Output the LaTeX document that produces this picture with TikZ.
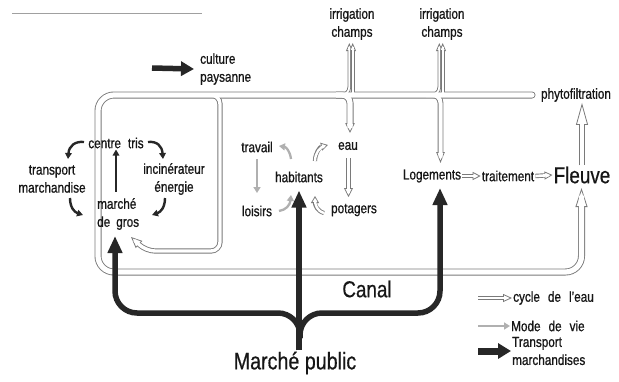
\documentclass[tikz,border=0pt]{standalone}
\usepackage{fontspec}
\setmainfont{Liberation Sans}[FakeStretch=0.81,FakeBold=0.8]
\newfontfamily\bigfont{Liberation Sans}[FakeStretch=0.82,FakeBold=0.5]
\usetikzlibrary{arrows.meta}
\definecolor{ink}{HTML}{161616}
\definecolor{cgray}{HTML}{7A7A7A}
\definecolor{lgray}{HTML}{B0B0B0}
\definecolor{dark}{HTML}{272727}
\definecolor{rulegray}{HTML}{A0A0A0}
\pgfdeclarelayer{background}
\pgfsetlayers{background,main}

\tikzset{
  wtip/.style={-{Triangle[fill=white,line width'=0.8pt,#1]}},
}
% hollow (water) arrow: outer width, inner width, tip options, inner shortening, path
\newcommand\hollow[5]{%
  \draw[draw=cgray,line width=#1,wtip={#3}] #5;
  \draw[draw=white,line width=#2,shorten >=#4] #5;}

\begin{document}
\begin{tikzpicture}[x=1pt,y=-1pt,
  lbl/.style={text=ink,font=\fontsize{14.5}{18}\selectfont,inner sep=1pt,align=center},
  big/.style={text=ink,font=\bigfont\fontsize{23}{26}\selectfont,inner sep=1pt},
  canalG/.style={draw=cgray,line width=7pt},
  canalW/.style={draw=white,line width=5.2pt},
  loopG/.style={draw=cgray,line width=5.2pt},
  loopW/.style={draw=white,line width=3.4pt},
  logG/.style={draw=cgray,line width=5.8pt},
  logW/.style={draw=white,line width=4pt},
  irrG/.style={draw=cgray,line width=3.6pt,wtip={length=8pt,width=6.5pt}},
  irrW/.style={draw=white,line width=1.8pt,shorten >=4pt},
  transport/.style={draw=dark,line width=5.5pt,-{Triangle[length=17pt,width=14pt]}},
  cyc/.style={draw=dark,line width=2.4pt,-{Triangle[length=6pt,width=6.5pt]}},
  mdv/.style={draw=lgray,line width=2.3pt,-{Triangle[length=6pt,width=7pt]}},
]
\begin{pgfonlayer}{background}
\fill[white] (0,0) rectangle (619,381);
\end{pgfonlayer}
\useasboundingbox (0,0) rectangle (619,381);

% ---------- text ----------
\node[lbl,anchor=west,align=left] (culture) at (199,69) {culture\\paysanne};
\node[lbl] (irr1) at (352,24) {irrigation\\champs};
\node[lbl] (irr2) at (442,24) {irrigation\\champs};
\node[lbl] (phyto) at (576,95) {phytofiltration};
\node[lbl] (centre) at (116,143) {centre\hspace{7pt}tris};
\node[lbl] (trans) at (52,179) {transport\\marchandise};
\node[lbl] (incin) at (174,179) {incinérateur\\énergie};
\node[lbl,anchor=west,align=left] (mdg) at (96,214) {marché\\de\hspace{6pt}gros};
\node[lbl] (travail) at (257,147) {travail};
\node[lbl] (hab) at (299,177) {habitants};
\node[lbl] (loisirs) at (257,211) {loisirs};
\node[lbl] (eau) at (348,146) {eau};
\node[lbl] (pot) at (354,210) {potagers};
\node[lbl] (log) at (432,176) {Logements};
\node[lbl] (trait) at (508,176) {traitement};
\node[big] (fleuve) at (582,175) {Fleuve};
\node[big] (canal) at (367,289) {Canal};
\node[big,font=\bigfont\fontsize{24}{26}\selectfont] (mp) at (295,363) {Marché public};
\node[lbl,anchor=west] (cyc) at (512,298) {cycle\hspace{8pt}de\hspace{8pt}l'eau};
\node[lbl,anchor=west] (mode) at (510,326) {Mode\hspace{8pt}de\hspace{8pt}vie};
\node[lbl,anchor=west,align=left] (tm) at (511,351) {Transport\\marchandises};

\begin{pgfonlayer}{background}
% thin rule at the top
\draw[draw=rulegray,line width=0.6pt] (12,13.5) -- (202,13.5);

% ---------- canal network: walls ----------
\draw[canalG,line cap=round,rounded corners=16pt,wtip={length=19pt,width=12pt}]
  (532,95) -- (98,95) -- (98,272) -- (581.5,272) -- (581.5,188);
\draw[loopG,rounded corners=9pt,wtip={length=11pt,width=9.5pt}]
  (205,95) -- (220,95) -- (220,251) -- (146,251) -- (131,237);
\draw[canalG,rounded corners=8pt,wtip={length=10pt,width=9.5pt}]
  (336,95) -- (350,95) -- (350,133);
\draw[logG,rounded corners=8pt,wtip={length=11pt,width=8.5pt}]
  (426,95) -- (440.5,95) -- (440.5,163);
\draw[irrG,rounded corners=8pt] (336,95) -- (349.3,95) -- (349.3,43);
\draw[irrG] (352.7,95) -- (352.7,43);
\draw[irrG,rounded corners=8pt] (426,95) -- (439.3,95) -- (439.3,43);
\draw[irrG] (442.7,95) -- (442.7,43);

% ---------- canal network: water ----------
\draw[canalW,line cap=round,rounded corners=16pt,shorten >=9pt]
  (532,95) -- (98,95) -- (98,272) -- (581.5,272) -- (581.5,188);
\draw[loopW,rounded corners=9pt,shorten >=5pt]
  (205,95) -- (220,95) -- (220,251) -- (146,251) -- (131,237);
\draw[canalW,rounded corners=8pt,shorten >=5pt]
  (336,95) -- (350,95) -- (350,133);
\draw[logW,rounded corners=8pt,shorten >=5.5pt]
  (426,95) -- (440.5,95) -- (440.5,163);
\draw[irrW,rounded corners=8pt] (336,95) -- (349.3,95) -- (349.3,43);
\draw[irrW] (352.7,95) -- (352.7,43);
\draw[irrW,rounded corners=8pt] (426,95) -- (439.3,95) -- (439.3,43);
\draw[irrW] (442.7,95) -- (442.7,43);
\end{pgfonlayer}

% ---------- water flow between places ----------
\hollow{5.2pt}{3.4pt}{length=22pt,width=12pt}{10pt}{(fleuve.north) -- (fleuve.north |- phyto.south)}
\hollow{4.4pt}{2.6pt}{length=8pt,width=8pt}{4pt}{(log.east) -- (trait.west)}
\hollow{4.4pt}{2.6pt}{length=8pt,width=8pt}{4pt}{(trait.east) -- (fleuve.west)}
\hollow{4.6pt}{2.8pt}{length=9pt,width=9pt}{4.5pt}{(348.5,158) -- (348.5,197)}
\hollow{4.2pt}{2.4pt}{length=7pt,width=8pt}{3.5pt}{(315,161) .. controls (315,153) and (320,147) .. (328,145)}
\hollow{4.2pt}{2.4pt}{length=7pt,width=8pt}{3.5pt}{(324,213) .. controls (317,211) and (315,205) .. (315,196)}

% ---------- mode de vie ----------
\draw[mdv] (291,159) .. controls (290,151) and (286,147) .. (279,146);
\draw[mdv] (257,159) -- (257,193);
\draw[mdv] (279,211) .. controls (286,210) and (290,205) .. (291,195);

% ---------- waste cycle ----------
\draw[cyc] (84,142) .. controls (75,141) and (69,146) .. (68,159);
\draw[cyc] (148,142) .. controls (157,141) and (162,146) .. (163,159);
\draw[cyc] (70,198) .. controls (70,207) and (74,212) .. (83,215);
\draw[cyc] (165,198) .. controls (165,207) and (161,212) .. (152,215);
\draw[cyc,shorten <=5pt] (mdg.north -| centre.south) -- (centre.south);

% ---------- goods transport ----------
\coordinate (cultTail) at (152,68);
\draw[transport,-{Triangle[length=13pt,width=14pt]}] (cultTail) -- ([xshift=-5pt]culture.west);
\coordinate (fork) at (300,338);
\coordinate (bendL) at (115,313);
\coordinate (bendR) at (440,313);
\coordinate (mdgTip) at (115,236);
\coordinate (logTip) at (440,188);
\draw[transport,shorten >=7pt] (mp.north -| hab.south) -- (hab.south);
\draw[transport,rounded corners=22pt] (fork) |- (bendL) -- (mdgTip);
\draw[transport,rounded corners=22pt] (fork) |- (bendR) -- (logTip);

% ---------- legend ----------
\coordinate (lg1) at (478,298);
\coordinate (lg2) at (478,326);
\coordinate (lg3) at (478,351);
\hollow{4.4pt}{2.6pt}{length=9pt,width=8pt}{4.5pt}{(lg1) -- (cyc.west)}
\draw[mdv] (lg2) -- (mode.west);
\draw[transport,line width=7pt,-{Triangle[length=13pt,width=15pt]}] (lg3) -- (tm.west);
\end{tikzpicture}
\end{document}
